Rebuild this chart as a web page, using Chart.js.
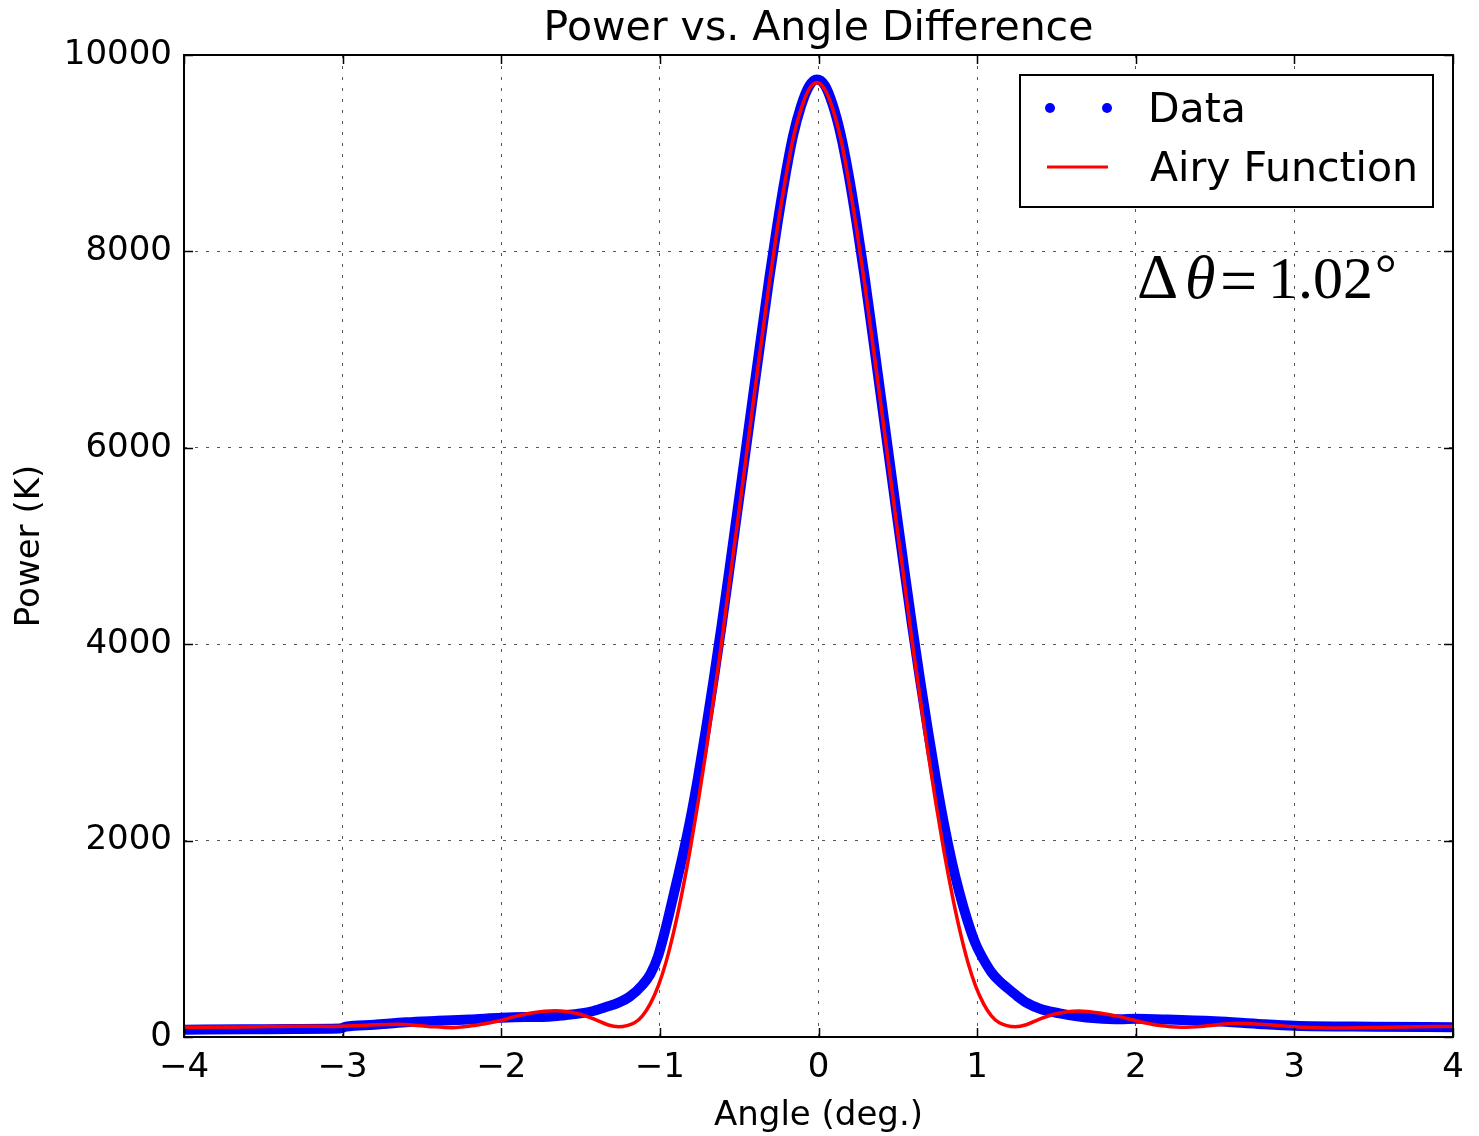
<!DOCTYPE html>
<html>
<head>
<meta charset="utf-8">
<title>Power vs. Angle Difference</title>
<script src="https://cdn.jsdelivr.net/npm/chart.js@4.4.1/dist/chart.umd.min.js"></script>
<style>
  html, body { margin: 0; padding: 0; background: #fff; }
  #powerChart { display: block; }
</style>
</head>
<body>
<canvas id="powerChart" width="1479" height="1136"></canvas>
<script>
// measured beam profile (blue dots)
const dataAngle = [-4.00, -3.60, -3.30, -3.02, -2.98, -2.80, -2.60, -2.40, -2.20, -2.00, -1.85, -1.70,
  -1.60, -1.50, -1.42, -1.34, -1.26, -1.19, -1.11, -1.06, -1.01, -0.96, -0.91, -0.86, -0.81, -0.76, -0.71,
  -0.66, -0.61, -0.56, -0.51, -0.46, -0.41, -0.36, -0.31, -0.26, -0.21, -0.16, -0.11, -0.06, -0.01,
  0.04, 0.09, 0.14, 0.19, 0.24, 0.29, 0.34, 0.39, 0.44, 0.49, 0.54, 0.59, 0.64, 0.69, 0.74, 0.79, 0.84,
  0.89, 0.94, 0.99, 1.04, 1.09, 1.14, 1.19, 1.25, 1.31, 1.40, 1.52, 1.63, 1.75, 1.90, 2.00, 2.20, 2.50,
  2.80, 3.00, 3.50, 4.00];
const dataPower = [75, 78, 82, 86, 105, 125, 150, 165, 178, 195, 203, 207,
  222, 240, 265, 305, 350, 411, 530, 640, 830, 1130, 1470, 1820, 2200, 2640, 3130,
  3650, 4200, 4780, 5370, 5960, 6560, 7150, 7730, 8270, 8760, 9180, 9480, 9680, 9750,
  9690, 9490, 9190, 8780, 8290, 7750, 7160, 6560, 5960, 5360, 4770, 4190, 3640, 3120, 2630, 2180, 1790,
  1460, 1180, 950, 790, 660, 570, 500, 420, 350, 285, 241, 210, 190, 180, 185, 178, 160,
  130, 115, 105, 100];

// fitted Airy function (red line)
const airyAngle = [-4.00, -3.61, -3.29, -3.06, -2.86, -2.65, -2.46, -2.31, -2.16, -2.01, -1.91, -1.81, -1.66,
  -1.51, -1.41, -1.33, -1.26, -1.16, -1.11, -1.06, -1.01, -0.96, -0.91, -0.86, -0.81, -0.76, -0.71, -0.66,
  -0.61, -0.56, -0.51, -0.46, -0.41, -0.36, -0.31, -0.26, -0.21, -0.16, -0.11, -0.06, -0.01,
  0.04, 0.09, 0.14, 0.19, 0.24, 0.29, 0.34, 0.39, 0.44, 0.49, 0.54, 0.59, 0.64, 0.69, 0.74, 0.79, 0.84,
  0.89, 0.94, 0.99, 1.04, 1.09, 1.14, 1.24, 1.31, 1.39, 1.49, 1.64, 1.79, 1.89, 1.99, 2.14, 2.29, 2.44,
  2.63, 2.84, 3.04, 3.27, 3.59, 4.00];
const airyPower = [100, 102, 110, 108, 120, 130, 108, 95, 120, 165, 210, 245, 268,
  235, 180, 125, 105, 145, 215, 340, 520, 770, 1090, 1470, 1900, 2380, 2900, 3460,
  4030, 4650, 5250, 5860, 6480, 7080, 7680, 8230, 8720, 9150, 9450, 9650, 9720,
  9650, 9450, 9150, 8720, 8230, 7680, 7080, 6480, 5860, 5250, 4650, 4030, 3460, 2900, 2380, 1900, 1470,
  1090, 770, 520, 340, 215, 145, 105, 125, 180, 235, 265, 240, 210, 170, 120, 100, 112,
  140, 125, 100, 92, 100, 108];

const xTicks = [-4, -3, -2, -1, 0, 1, 2, 3, 4];
const yTicks = [0, 2000, 4000, 6000, 8000, 10000];

const FONT = 'DejaVu Sans';
const toPoints = (xs, ys) => xs.map((x, i) => ({ x, y: ys[i] }));
const minusLabel = v => (v < 0 ? '\u2212' + Math.abs(v) : String(v));

// frame, inward ticks, title, legend and the Δθ note, matplotlib style
const decorations = {
  id: 'decorations',
  afterDraw(chart) {
    const { ctx, chartArea: ca, scales } = chart;
    const tick = 9;
    ctx.save();
    ctx.strokeStyle = '#000';
    ctx.lineWidth = 1.5;
    ctx.beginPath();
    xTicks.forEach(v => {
      const px = Math.round(scales.x.getPixelForValue(v)) + 0.5;
      ctx.moveTo(px, ca.bottom); ctx.lineTo(px, ca.bottom - tick);
      ctx.moveTo(px, ca.top); ctx.lineTo(px, ca.top + tick);
    });
    yTicks.forEach(v => {
      const py = Math.round(scales.y.getPixelForValue(v)) + 0.5;
      ctx.moveTo(ca.left, py); ctx.lineTo(ca.left + tick, py);
      ctx.moveTo(ca.right, py); ctx.lineTo(ca.right - tick, py);
    });
    ctx.stroke();
    ctx.lineWidth = 2;
    ctx.strokeRect(ca.left, ca.top, ca.right - ca.left, ca.bottom - ca.top);

    // title
    ctx.fillStyle = '#000';
    ctx.font = '41px "' + FONT + '"';
    ctx.textAlign = 'center';
    ctx.textBaseline = 'middle';
    ctx.fillText('Power vs. Angle Difference', (ca.left + ca.right) / 2, 29);

    // legend
    const lx = ca.right - 433, ly = ca.top + 20, lw = 413, lh = 132;
    ctx.fillStyle = '#fff';
    ctx.fillRect(lx, ly, lw, lh);
    ctx.lineWidth = 2;
    ctx.strokeRect(lx, ly, lw, lh);
    ctx.fillStyle = '#0000ff';
    [30, 87].forEach(dx => {
      ctx.beginPath();
      ctx.arc(lx + dx, ly + 33, 5, 0, Math.PI * 2);
      ctx.fill();
    });
    ctx.strokeStyle = '#ff0000';
    ctx.lineWidth = 3;
    ctx.beginPath();
    ctx.moveTo(lx + 27, ly + 92); ctx.lineTo(lx + 88, ly + 92);
    ctx.stroke();
    ctx.fillStyle = '#000';
    ctx.textAlign = 'left';
    ctx.font = '41px "' + FONT + '"';
    ctx.fillText('Data', lx + 128, ly + 36);
    ctx.fillText('Airy Function', lx + 130, ly + 95);

    // Δθ = 1.02°
    const serif = '"Liberation Serif", "DejaVu Serif", serif';
    const ay = 298;
    ctx.textBaseline = 'alphabetic';
    ctx.font = '64px ' + serif;
    ctx.fillText('\u0394', ca.right - 316, ay);
    ctx.font = 'italic 62px ' + serif;
    ctx.fillText('\u03b8', ca.right - 268, ay);
    ctx.font = '66px ' + serif;
    ctx.fillText('=', ca.right - 233, ay + 5);
    ctx.font = '60px ' + serif;
    ctx.fillText('1.02', ca.right - 185, ay);
    ctx.font = '54px ' + serif;
    ctx.fillText('\u00b0', ca.right - 78, ay - 6);
    ctx.restore();
  }
};

new Chart(document.getElementById('powerChart'), {
  type: 'scatter',
  data: {
    datasets: [
      {
        label: 'Data',
        data: toPoints(dataAngle, dataPower),
        showLine: true,
        borderColor: '#0000ff',
        backgroundColor: '#0000ff',
        borderWidth: 10,
        pointRadius: 0,
        cubicInterpolationMode: 'monotone',
        clip: 0,
        order: 1
      },
      {
        label: 'Airy Function',
        data: toPoints(airyAngle, airyPower),
        showLine: true,
        borderColor: '#ff0000',
        backgroundColor: '#ff0000',
        borderWidth: 3.5,
        pointRadius: 0,
        cubicInterpolationMode: 'monotone',
        clip: 0,
        order: 0
      }
    ]
  },
  options: {
    responsive: false,
    animation: false,
    layout: { padding: { top: 55, right: 26, bottom: 0, left: 0 } },
    plugins: {
      legend: { display: false },
      title: { display: false },
      tooltip: { enabled: false }
    },
    scales: {
      x: {
        type: 'linear',
        min: -4,
        max: 4,
        afterBuildTicks: s => { s.ticks = xTicks.map(v => ({ value: v })); },
        afterFit: s => { s.height = 99; },
        ticks: {
          callback: minusLabel,
          font: { family: FONT, size: 34 },
          color: '#000',
          padding: 11,
          maxRotation: 0,
          autoSkip: false
        },
        grid: { color: '#555', lineWidth: 1, drawTicks: false },
        border: { display: false, dash: [3, 8] },
        title: {
          display: true,
          text: 'Angle (deg.)',
          color: '#000',
          font: { family: FONT, size: 34, lineHeight: 1 },
          padding: { top: 0, bottom: 3 }
        }
      },
      y: {
        type: 'linear',
        min: 0,
        max: 10000,
        afterBuildTicks: s => { s.ticks = yTicks.map(v => ({ value: v })); },
        afterFit: s => { s.width = 184; },
        ticks: {
          callback: v => String(v),
          font: { family: FONT, size: 34 },
          color: '#000',
          padding: 12
        },
        grid: { color: '#555', lineWidth: 1, drawTicks: false },
        border: { display: false, dash: [3, 8] },
        title: {
          display: true,
          text: 'Power (K)',
          color: '#000',
          font: { family: FONT, size: 34, lineHeight: 1 },
          padding: { top: 13, bottom: 0 }
        }
      }
    }
  },
  plugins: [decorations]
});
</script>
</body>
</html>
